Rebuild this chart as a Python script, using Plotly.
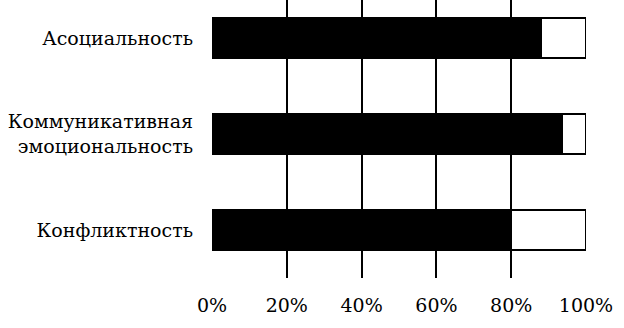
import plotly.graph_objects as go

categories = ["Асоциальность", "Коммуникативная<br>эмоциональность", "Конфликтность"]
share_yes = [88, 93.5, 80]
share_no = [12, 6.5, 20]
tick_vals = [0, 20, 40, 60, 80, 100]
tick_text = ["0%", "20%", "40%", "60%", "80%", "100%"]

fig = go.Figure()
fig.add_trace(go.Bar(y=categories, x=share_yes, orientation="h",
                     marker=dict(color="black", line=dict(color="black", width=2)),
                     showlegend=False))
fig.add_trace(go.Bar(y=categories, x=share_no, orientation="h",
                     marker=dict(color="white", line=dict(color="black", width=2)),
                     showlegend=False))

fig.update_layout(
    width=624, height=328,
    margin=dict(l=212, r=38, t=0, b=50),
    barmode="stack", bargap=0.58,
    plot_bgcolor="white", paper_bgcolor="white",
    font=dict(family="DejaVu Serif", size=19, color="black"),
    xaxis=dict(range=[0, 100], tickvals=tick_vals, ticktext=tick_text,
               showgrid=True, gridcolor="black", gridwidth=2,
               zeroline=False, showline=False, ticks="",
               ticklabelstandoff=14, fixedrange=True, automargin=False),
    yaxis=dict(type="category", categoryorder="array", categoryarray=categories,
               range=[2.5, -0.396], showgrid=False, zeroline=False,
               showline=False, ticks="", ticklabelstandoff=18, automargin=False),
)
fig.write_html("out.html", config={"displayModeBar": False},
               post_script="document.body.style.margin='0';document.body.style.overflow='hidden';")
